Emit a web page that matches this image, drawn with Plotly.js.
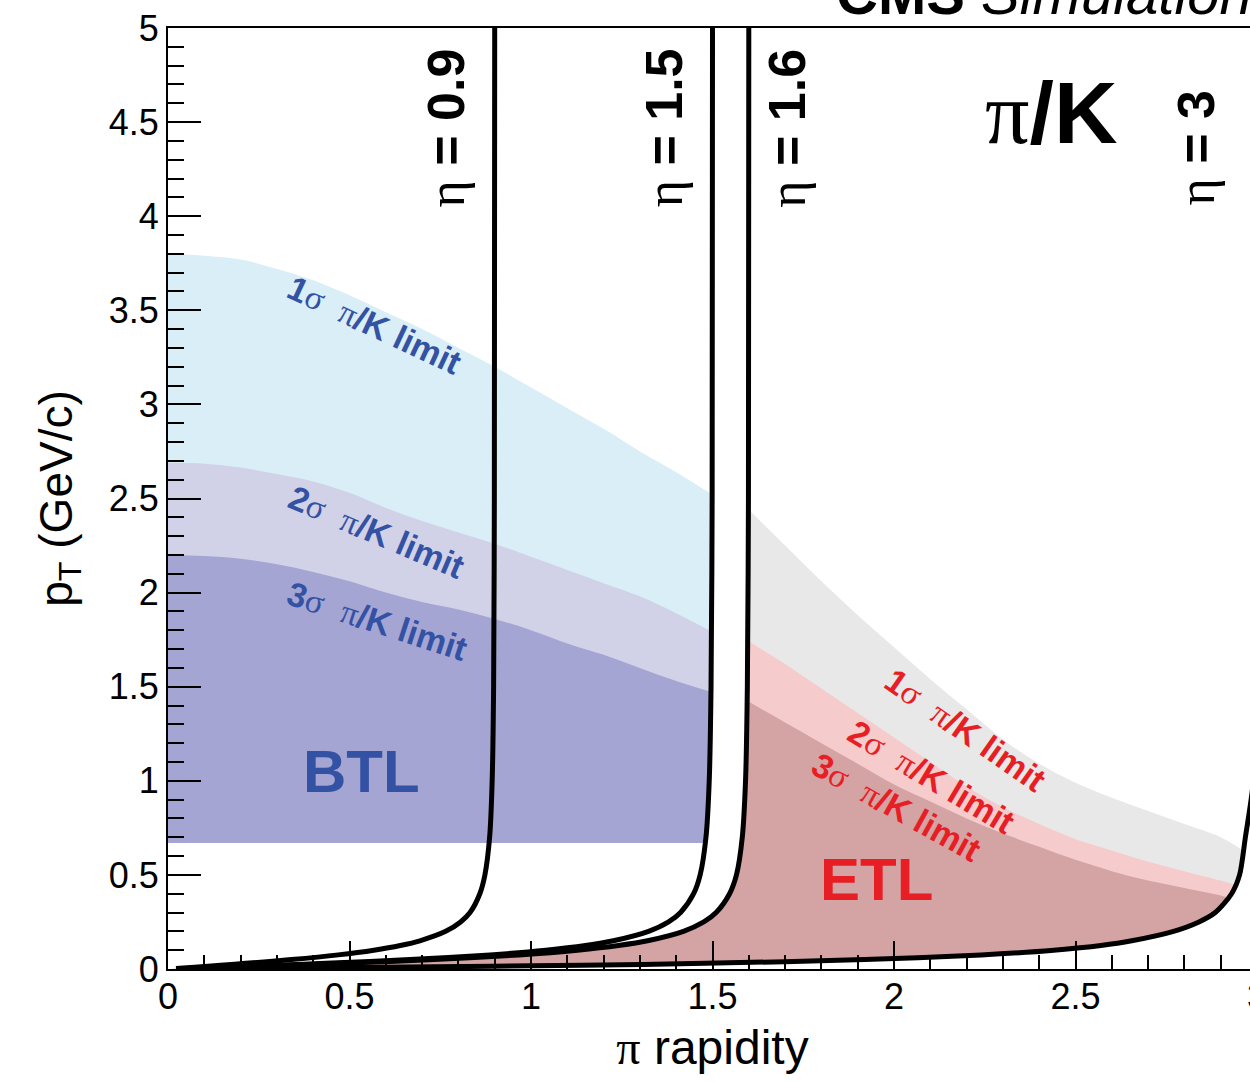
<!DOCTYPE html>
<html><head><meta charset="utf-8">
<script src="https://cdn.plot.ly/plotly-3.0.1.min.js"></script>
<style>html,body{margin:0;padding:0;overflow:hidden;background:#fff}#plot{width:1280px;height:1082px}</style>
</head><body><div id="plot"></div>
<script>
// ---- BTL pi/K separation limits (x = pion rapidity, value = pT in GeV/c)
const btlRap = [0, 0.1, 0.2, 0.3, 0.4, 0.5, 0.6, 0.7, 0.8, 0.9, 1.0, 1.1, 1.2, 1.3, 1.4, 1.5];
const btl1Sigma = [3.80, 3.79, 3.77, 3.72, 3.66, 3.58, 3.49, 3.40, 3.30, 3.20, 3.09, 2.98, 2.87, 2.75, 2.64, 2.52];
const btl2Sigma = [2.69, 2.685, 2.665, 2.63, 2.59, 2.53, 2.45, 2.38, 2.32, 2.26, 2.19, 2.12, 2.05, 1.98, 1.89, 1.79];
const btl3Sigma = [2.20, 2.195, 2.18, 2.15, 2.11, 2.06, 2.00, 1.95, 1.91, 1.86, 1.80, 1.73, 1.67, 1.60, 1.53, 1.47];
const btlPtMin = 0.67;

// ---- ETL pi/K separation limits
const etlRap = [1.6, 1.7, 1.8, 1.9, 2.0, 2.1, 2.2, 2.3, 2.4, 2.5, 2.6, 2.7, 2.8, 2.9, 2.97];
const etl1Sigma = [2.44, 2.25, 2.06, 1.88, 1.71, 1.54, 1.38, 1.22, 1.09, 0.99, 0.91, 0.84, 0.77, 0.70, 0.62];
const etl2Sigma = [1.74, 1.62, 1.49, 1.36, 1.23, 1.10, 0.97, 0.86, 0.77, 0.69, 0.63, 0.57, 0.52, 0.47, 0.43];
const etl3Sigma = [1.42, 1.31, 1.20, 1.09, 0.98, 0.89, 0.80, 0.72, 0.65, 0.58, 0.52, 0.47, 0.43, 0.39, 0.35];

// ---- constant pseudorapidity contours: pT values and pion rapidity for each eta
const etaPt    = [0.003, 0.01, 0.02, 0.03, 0.05, 0.075, 0.1, 0.125, 0.15, 0.2, 0.25, 0.3, 0.4, 0.5, 0.7, 1.0, 1.5, 2.5, 5.0];
const eta09Rap = [0.022, 0.073, 0.145, 0.214, 0.340, 0.469, 0.567, 0.640, 0.694, 0.765, 0.806, 0.832, 0.859, 0.873, 0.886, 0.893, 0.897, 0.899, 0.900];
const eta15Rap = [0.046, 0.152, 0.298, 0.434, 0.667, 0.887, 1.041, 1.150, 1.227, 1.324, 1.379, 1.412, 1.448, 1.466, 1.482, 1.491, 1.496, 1.499, 1.500];
const eta16Rap = [0.051, 0.169, 0.331, 0.480, 0.733, 0.967, 1.128, 1.241, 1.321, 1.420, 1.476, 1.510, 1.547, 1.566, 1.582, 1.591, 1.596, 1.599, 1.600];
const eta30Rap = [0.210, 0.660, 1.140, 1.480, 1.920, 2.240, 2.440, 2.570, 2.655, 2.770, 2.840, 2.885, 2.930, 2.952, 2.968, 2.990, 2.995, 2.998, 3.000];

const etaLabels = ['0.9', '1.5', '1.6', '3'];

// ---- helpers to build region outlines from the arrays
function rapAt(rapArr, pt) {
  if (pt <= etaPt[0]) return rapArr[0] * pt / etaPt[0];
  for (let i = 1; i < etaPt.length; i++) {
    if (pt <= etaPt[i]) {
      const t = (pt - etaPt[i - 1]) / (etaPt[i] - etaPt[i - 1]);
      return rapArr[i - 1] + t * (rapArr[i] - rapArr[i - 1]);
    }
  }
  return rapArr[rapArr.length - 1];
}
const NOLINE = {width: 0, color: 'rgba(0,0,0,0)'};
function baseTrace(x, y) {
  return {type: 'scatter', mode: 'lines', x: x, y: y, line: NOLINE, hoverinfo: 'skip', showlegend: false};
}
function limTrace(x, y, color) {
  return {type: 'scatter', mode: 'lines', x: x, y: y, fill: 'tonexty', fillcolor: color,
          line: {width: 0, color: color, shape: 'spline', smoothing: 1}, hoverinfo: 'skip', showlegend: false};
}
function btlBand(lim, color) {
  const xr = rapAt(eta15Rap, btlPtMin);
  return [baseTrace([0, xr], [btlPtMin, btlPtMin]), limTrace(btlRap, lim, color)];
}
function etlBand(lim, color) {
  // limit curve, cut where it meets the eta = 3 contour
  const sx = [], sy = [];
  for (let i = 0; i < etlRap.length; i++) {
    const edge = rapAt(eta30Rap, lim[i]);
    if (etlRap[i] >= edge && i > 0) {
      let a = 0, b = 1;
      for (let k = 0; k < 40; k++) {
        const m = (a + b) / 2;
        const xm = etlRap[i - 1] + m * (etlRap[i] - etlRap[i - 1]);
        const ym = lim[i - 1] + m * (lim[i] - lim[i - 1]);
        if (xm < rapAt(eta30Rap, ym)) a = m; else b = m;
      }
      sx.push(etlRap[i - 1] + a * (etlRap[i] - etlRap[i - 1]));
      sy.push(lim[i - 1] + a * (lim[i] - lim[i - 1]));
      break;
    }
    sx.push(etlRap[i]); sy.push(lim[i]);
  }
  // lower/left boundary: eta = 1.6 contour down to the origin, then eta = 3 contour up to the cut
  const bx = [], by = [];
  for (let i = etaPt.length - 1; i >= 0; i--) {
    if (etaPt[i] < sy[0]) { bx.push(eta16Rap[i]); by.push(etaPt[i]); }
  }
  bx.push(0); by.push(0);
  const endPt = sy[sy.length - 1];
  for (let i = 0; i < etaPt.length; i++) {
    if (etaPt[i] < endPt) { bx.push(eta30Rap[i]); by.push(etaPt[i]); }
  }
  bx.push(sx[sx.length - 1]); by.push(endPt);
  return [baseTrace(bx, by), limTrace(sx, sy, color)];
}
function etaTrace(rap) {
  return {type: 'scatter', mode: 'lines', x: rap, y: etaPt,
          line: {color: '#000', width: 5, shape: 'spline', smoothing: 0.8}, hoverinfo: 'skip', showlegend: false};
}

const traces = [].concat(
  btlBand(btl1Sigma, '#d9eef7'),
  btlBand(btl2Sigma, '#d1d2e8'),
  btlBand(btl3Sigma, '#a5a5d3'),
  etlBand(etl1Sigma, '#e8e8e8'),
  etlBand(etl2Sigma, '#f6cbcc'),
  etlBand(etl3Sigma, '#d4a3a4'),
  [etaTrace(eta09Rap), etaTrace(eta15Rap), etaTrace(eta16Rap), etaTrace(eta30Rap)]
);

const SERIF = 'font-family:Liberation Serif,Times New Roman,serif;font-weight:normal';
const BLUE = '#3352a4', RED = '#e81e25';
function limitText(n) {
  return n + '<span style="' + SERIF + '">σ</span>\u00a0\u00a0<span style="' + SERIF + '">π</span>/K limit';
}
function lab(text, x, y, angle, color, size) {
  return {text: text, x: x, y: y, xref: 'x', yref: 'y', showarrow: false, textangle: angle,
          xanchor: 'center', yanchor: 'middle',
          font: {family: 'Liberation Sans, Arial, sans-serif', size: size, color: color, weight: 'bold'}};
}
const annotations = [
  lab(limitText('1'), 0.569, 3.42, 25, BLUE, 34),
  lab(limitText('2'), 0.575, 2.32, 23, BLUE, 34),
  lab(limitText('3'), 0.577, 1.85, 18, BLUE, 34),
  lab('BTL', 0.533, 1.05, 0, BLUE, 60),
  lab(limitText('1'), 2.197, 1.27, 35, RED, 34),
  lab(limitText('2'), 2.104, 1.02, 31, RED, 34),
  lab(limitText('3'), 2.007, 0.86, 29, RED, 34),
  lab('ETL', 1.953, 0.475, 0, RED, 60),
  lab('<span style="' + SERIF + '">π</span>/K', 2.432, 4.55, 0, '#000', 88),
  lab('<span style="' + SERIF + '">η</span> = ' + etaLabels[0], 0.765, 4.47, -90, '#000', 52),
  lab('<span style="' + SERIF + '">η</span> = ' + etaLabels[1], 1.365, 4.47, -90, '#000', 52),
  lab('<span style="' + SERIF + '">η</span> = ' + etaLabels[2], 1.705, 4.47, -90, '#000', 52),
  lab('<span style="' + SERIF + '">η</span> = ' + etaLabels[3], 2.832, 4.36, -90, '#000', 52),
  {text: '<b>CMS</b> <i>Simulation</i>', xref: 'paper', yref: 'paper', x: 0.612, y: 1.037,
   xanchor: 'left', yanchor: 'middle', showarrow: false,
   font: {family: 'Liberation Sans, Arial, sans-serif', size: 58, color: '#000'}}
];

const axisCommon = {
  ticks: 'inside', tickwidth: 2, tickcolor: '#000', showline: true, linewidth: 2, linecolor: '#000',
  mirror: true, showgrid: false, zeroline: false, fixedrange: true, automargin: false,
  tickfont: {family: 'Liberation Sans, Arial, sans-serif', size: 36, color: '#000'}
};
const layout = {
  width: 1280, height: 1082,
  margin: {l: 168, r: 23, t: 28, b: 113},
  paper_bgcolor: '#fff', plot_bgcolor: '#fff', showlegend: false,
  font: {family: 'Liberation Sans, Arial, sans-serif', color: '#000'},
  xaxis: Object.assign({}, axisCommon, {
    range: [0, 3], tick0: 0, dtick: 0.5, ticklen: 28, ticklabelstandoff: -5,
    minor: {dtick: 0.1, ticks: 'inside', ticklen: 14, tickwidth: 2, tickcolor: '#000', showgrid: false},
    title: {text: '<span style="font-family:Liberation Serif,serif">π</span> rapidity',
            font: {size: 48, color: '#000'}, standoff: 14}
  }),
  yaxis: Object.assign({}, axisCommon, {
    range: [0, 5], tick0: 0, dtick: 0.5, ticklen: 33,
    minor: {dtick: 0.1, ticks: 'inside', ticklen: 16, tickwidth: 2, tickcolor: '#000', showgrid: false},
    title: {text: 'p<sub>T</sub> (GeV/c)', font: {size: 46, color: '#000'}, standoff: 22}
  }),
  annotations: annotations
};
Plotly.newPlot('plot', traces, layout, {displayModeBar: false, staticPlot: true});
</script></body></html>
